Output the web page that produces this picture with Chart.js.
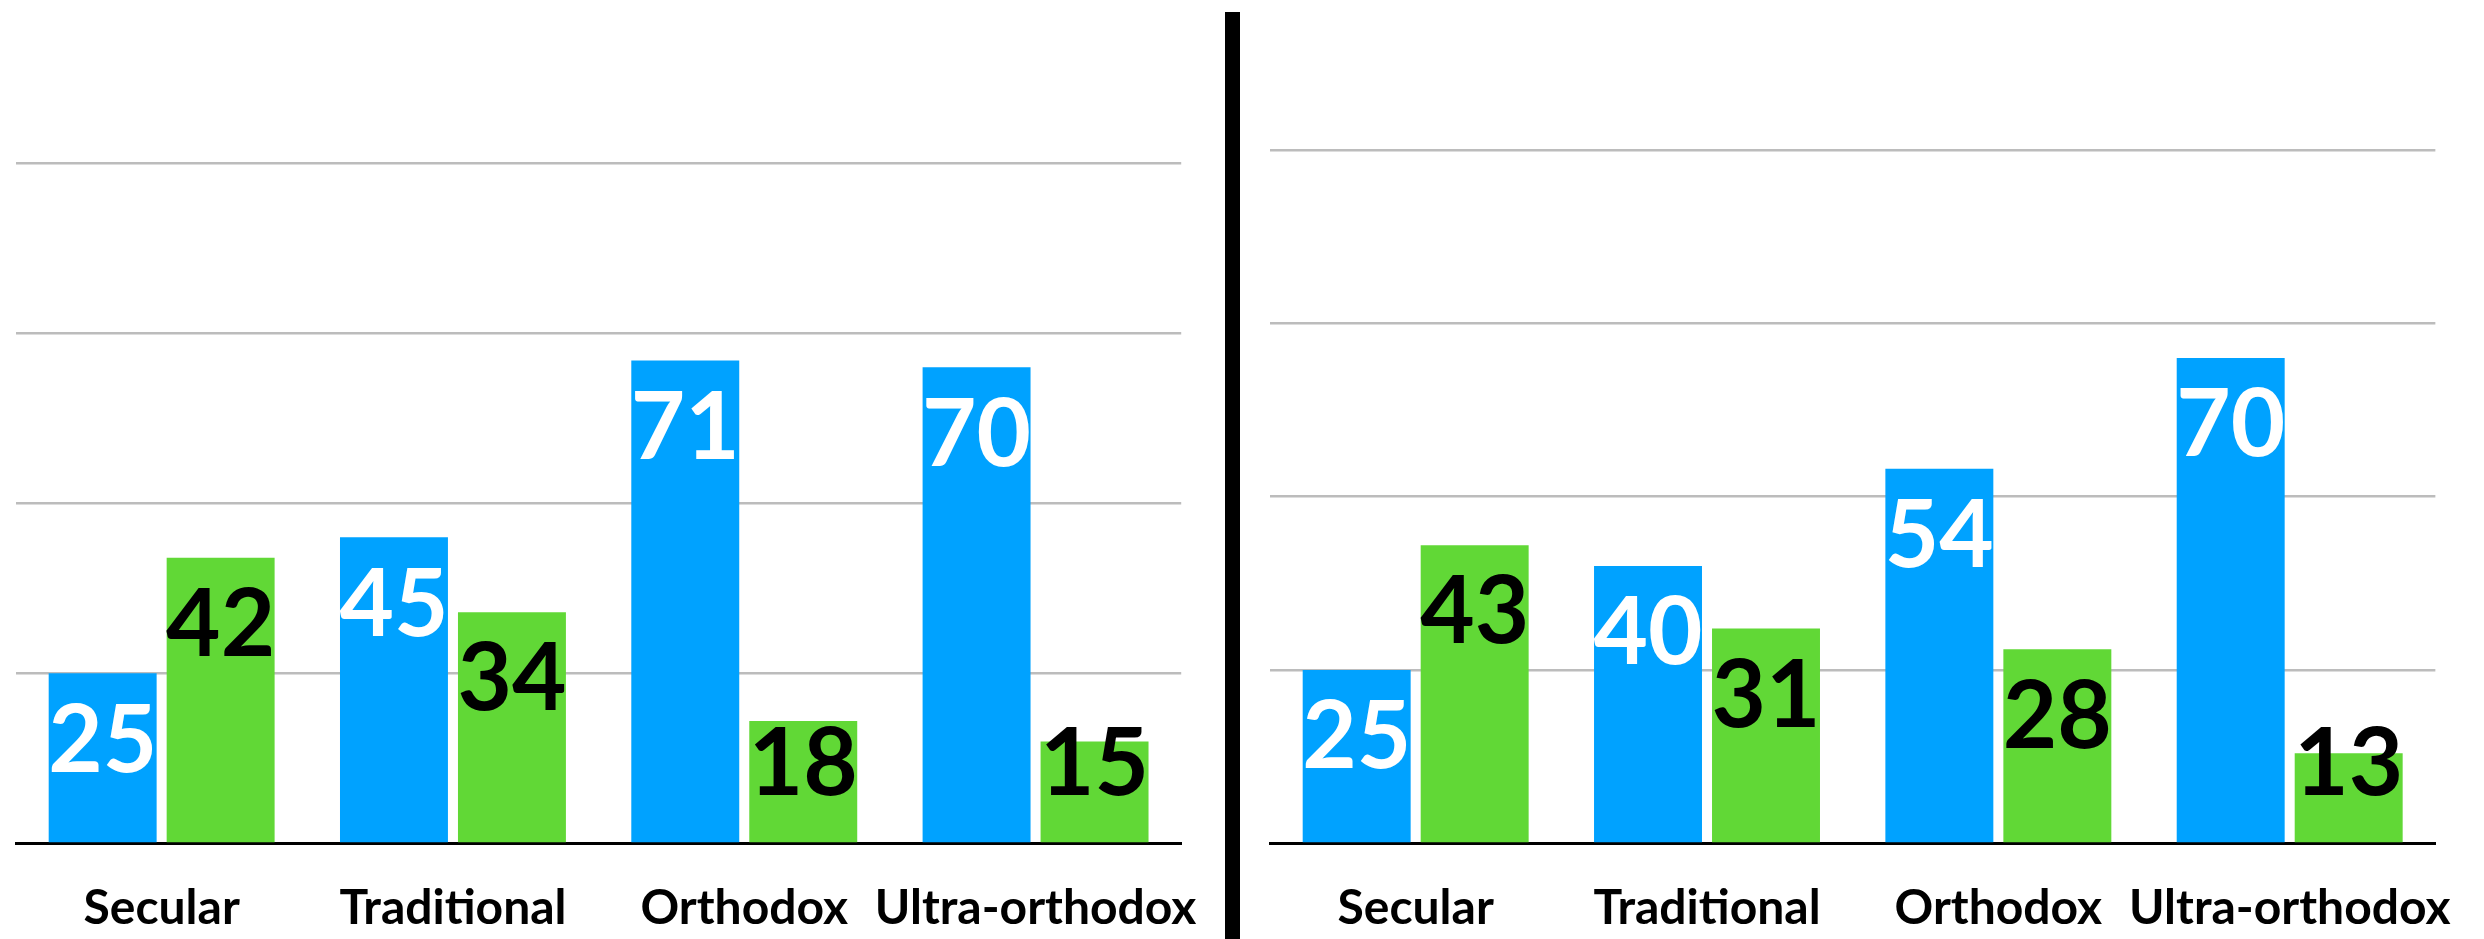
<!DOCTYPE html>
<html>
<head>
<meta charset="utf-8">
<script src="https://cdn.jsdelivr.net/npm/chart.js@4/dist/chart.umd.min.js"></script>
<style>
  html, body { margin:0; padding:0; background:#fff; }
  body { width:2484px; height:939px; position:relative; overflow:hidden; }
  .wrap { position:absolute; top:0; height:979px; }
  #left { left:0; width:1234px; }
  #right { left:1250px; width:1241px; }
  #divider { position:absolute; left:1225px; top:12px; width:15px; height:927px; background:#000; z-index:2; }
</style>
</head>
<body>
<div class="wrap" id="left"><canvas id="leftChart"></canvas></div>
<div id="divider"></div>
<div class="wrap" id="right"><canvas id="rightChart"></canvas></div>
<script>
// categories and values
const categories = ['Secular', 'Traditional', 'Orthodox', 'Ultra-orthodox'];
const leftBlue = [25, 45, 71, 70];
const leftGreen = [42, 34, 18, 15];
const rightBlue = [25, 40, 54, 70];
const rightGreen = [43, 31, 28, 13];

const BLUE = '#00A2FF';
const GREEN = '#61D836';

// numbers drawn inside the top of each bar
const barLabels = {
  id: 'barLabels',
  afterDatasetsDraw(chart){
    const ctx = chart.ctx;
    ctx.save();
    ctx.textAlign = 'center';
    ctx.textBaseline = 'middle';
    ctx.font = 'bold 94px Lato';
    chart.data.datasets.forEach((ds, i) => {
      chart.getDatasetMeta(i).data.forEach((bar, j) => {
        const y = Math.min(bar.y + 68, bar.base - 77);
        ctx.fillStyle = i === 0 ? '#fff' : '#000';
        ctx.fillText(String(ds.data[j]), bar.x, y);
      });
    });
    ctx.restore();
  }
};

function makeChart(id, blue, green, max, pad){
  return new Chart(document.getElementById(id), {
    type: 'bar',
    data: {
      labels: categories,
      datasets: [
        { data: blue, backgroundColor: BLUE },
        { data: green, backgroundColor: GREEN }
      ]
    },
    options: {
      responsive: true,
      maintainAspectRatio: false,
      animation: false,
      categoryPercentage: 0.81,
      barPercentage: 0.915,
      layout: { padding: pad },
      plugins: { legend: { display:false }, tooltip: { enabled:false } },
      scales: {
        x: {
          grid: { display:false, drawTicks:false },
          border: { color:'#000', width:3 },
          ticks: {
            color:'#000', padding:36, autoSkip:false, maxRotation:0,
            font: { family:'Lato', weight:'bold', size:48 }
          }
        },
        y: {
          min: 0, max: max,
          ticks: { display:false, stepSize:25 },
          border: { display:false },
          grid: {
            drawTicks:false, lineWidth:2.5,
            color: c => (c.tick.value > 0 && c.tick.value % 25 === 0) ? '#bcbcbc' : 'rgba(0,0,0,0)'
          }
        }
      }
    },
    plugins: [barLabels]
  });
}

makeChart('leftChart', leftBlue, leftGreen, 124, { left:16, right:13, top:0, bottom:6 });
makeChart('rightChart', rightBlue, rightGreen, 121.6, { left:20, right:36, top:0, bottom:6 });
</script>
</body>
</html>
